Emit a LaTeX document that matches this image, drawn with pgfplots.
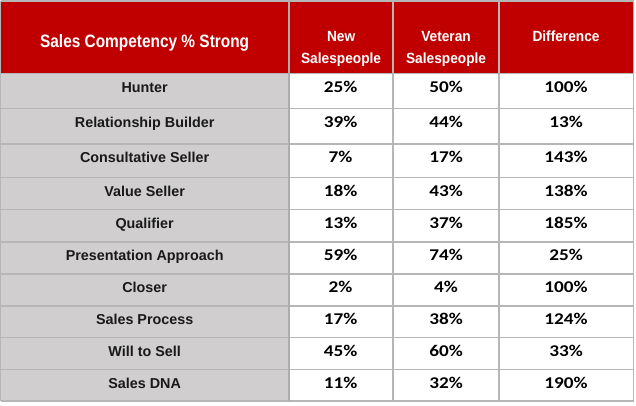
\documentclass[border=0pt]{standalone}
\usepackage{pgfplots}
\pgfplotsset{compat=1.18}
\usepackage{pgfplotstable}
\usepackage{fontspec}
\setmainfont{Liberation Sans}
\newfontfamily\hdrfont{Liberation Sans}[FakeStretch=0.86]
\newfontfamily\colhdrfont{Liberation Sans}[FakeStretch=0.93]
\newfontfamily\numfont{Carlito}[FakeStretch=1.17]
\definecolor{hdrred}{RGB}{192,0,0}
\definecolor{cellgray}{RGB}{208,206,206}
\definecolor{gridgray}{RGB}{182,182,182}
\definecolor{labelblack}{RGB}{25,25,25}
\tikzset{colhdr/.style={anchor=base, inner sep=0pt, text=white,
      font=\colhdrfont\bfseries\fontsize{14.8}{17}\selectfont}}

\pgfplotstableread[col sep=comma]{
base,label,new,vet,diff
91.8,Hunter,25,50,100
126.8,Relationship Builder,39,44,13
162.2,Consultative Seller,7,17,143
195.8,Value Seller,18,43,138
227.8,Qualifier,13,37,185
260.2,Presentation Approach,59,74,25
292.2,Closer,2,4,100
324.2,Sales Process,17,38,124
355.8,Will to Sell,45,60,33
387.8,Sales DNA,11,32,190
}\tbl

\begin{document}
\begin{tikzpicture}
\begin{axis}[
  scale only axis, width=636bp, height=405bp,
  xmin=0, xmax=636, ymin=0, ymax=405, y dir=reverse,
  hide axis, clip=false,
  numcol/.style={draw=none, mark=none, nodes near coords={\pgfplotspointmeta\%},
    point meta=explicit symbolic,
    every node near coord/.style={anchor=base, inner sep=0pt, text=black,
      font=\numfont\bfseries\fontsize{16.5}{19}\selectfont}},
]
% backgrounds
\addplot[fill=white, draw=none] coordinates {(0,0) (636,0) (636,405) (0,405)} -- cycle;
\addplot[fill=hdrred, draw=none] coordinates {(0.5,0.5) (633.5,0.5) (633.5,73.3) (0.5,73.3)} -- cycle;
\addplot[fill=cellgray, draw=none] coordinates {(0.5,73.3) (289,73.3) (289,400.5) (0.5,400.5)} -- cycle;
% grid lines
\addplot[gridgray, line width=1.4bp, unbounded coords=jump] coordinates {
 (0.5,0.5) (633.5,0.5) (nan,nan)
 (0.5,73.3) (633.5,73.3) (nan,nan)
 (0.5,108.3) (633.5,108.3) (nan,nan)
 (0.5,143.7) (633.5,143.7) (nan,nan)
 (0.5,177.3) (633.5,177.3) (nan,nan)
 (0.5,209.3) (633.5,209.3) (nan,nan)
 (0.5,241.7) (633.5,241.7) (nan,nan)
 (0.5,273.7) (633.5,273.7) (nan,nan)
 (0.5,305.7) (633.5,305.7) (nan,nan)
 (0.5,337.3) (633.5,337.3) (nan,nan)
 (0.5,369.3) (633.5,369.3) (nan,nan)
 (0.5,400.5) (633.5,400.5) (nan,nan)
 (0.5,0.5) (0.5,400.5) (nan,nan)
 (393,0.5) (393,400.5) (nan,nan)
 (499,0.5) (499,400.5) (nan,nan)
 (633.5,0.5) (633.5,400.5)
};
\addplot[gridgray!95!black, line width=1.9bp] coordinates {(289,0.5) (289,400.5)};
% row labels
\addplot[draw=none, mark=none, nodes near coords, point meta=explicit symbolic,
  every node near coord/.style={anchor=base, inner sep=0pt, text=labelblack,
    font=\bfseries\fontsize{14.4}{17}\selectfont}]
  table[x expr=144.5, y=base, meta=label]{\tbl};
% values
\addplot[numcol] table[x expr=340.5, y=base, meta=new]{\tbl};
\addplot[numcol] table[x expr=446, y=base, meta=vet]{\tbl};
\addplot[numcol] table[x expr=566, y=base, meta=diff]{\tbl};
% headers
\node[anchor=base, inner sep=0pt, text=white, font=\hdrfont\bfseries\fontsize{18}{20}\selectfont]
  at (axis cs:144.5,47.3) {Sales Competency \% Strong};
\node[colhdr] at (axis cs:341,40.7) {New};
\node[colhdr] at (axis cs:341,62.7) {Salespeople};
\node[colhdr] at (axis cs:446,40.7) {Veteran};
\node[colhdr] at (axis cs:446,62.7) {Salespeople};
\node[colhdr] at (axis cs:566,41.5) {Difference};
\end{axis}
\end{tikzpicture}
\end{document}
